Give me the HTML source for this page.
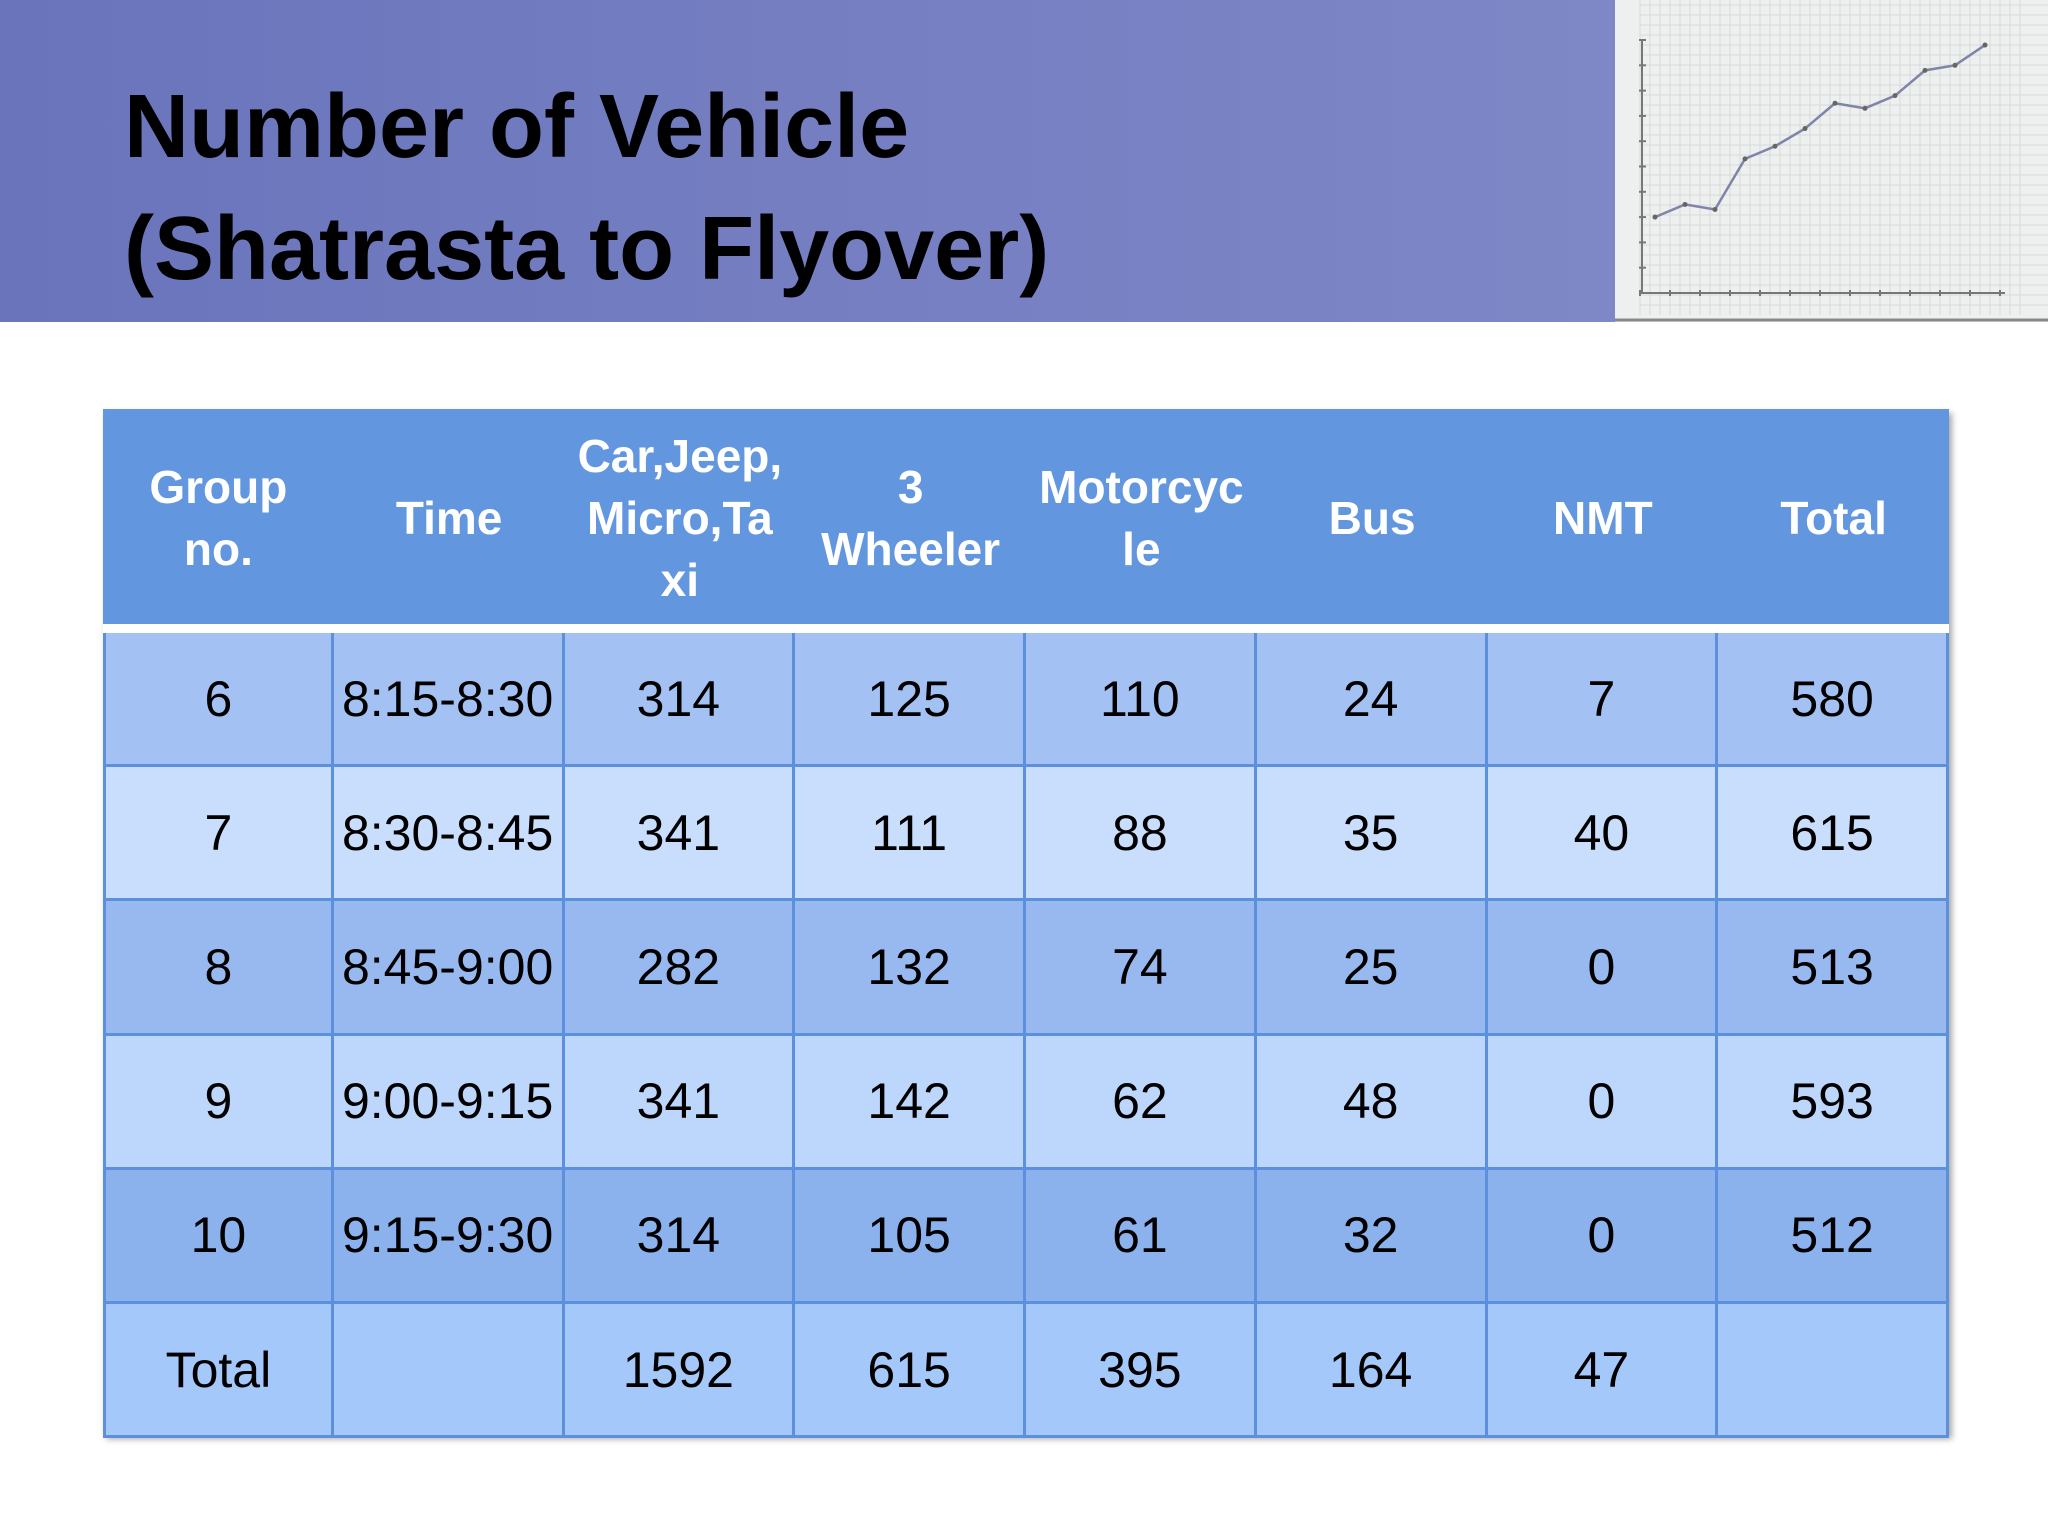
<!DOCTYPE html>
<html><head><meta charset="utf-8"><style>
body{margin:0;width:2048px;height:1536px;background:#fff;position:relative;overflow:hidden;font-family:"Liberation Sans",sans-serif}
#band{position:absolute;left:0;top:0;width:1615px;height:322px;background:linear-gradient(90deg,#6a74bb,#7e88c7)}
#title{position:absolute;left:124px;top:66px;font-weight:bold;font-size:90px;line-height:122px;color:#000}
#photo{position:absolute;left:1615px;top:0;width:433px;height:322px}
#tbl{position:absolute;left:103px;top:409px;width:1846px;height:1026px;box-shadow:3px 4px 6px rgba(0,0,0,.35)}
.c{position:absolute;display:flex;align-items:center;justify-content:center;text-align:center;box-sizing:border-box}
.h{color:#fff;font-weight:bold;font-size:46px;line-height:62px;white-space:nowrap}
.d{color:#000;font-size:50px;border-right:3px solid #5c90dc;border-bottom:3px solid #5c90dc}
</style></head><body>
<div id="band"></div>
<div id="title">Number of Vehicle<br>(Shatrasta to Flyover)</div>
<svg id="photo" width="433" height="322" viewBox="1615 0 433 322">
<rect x="1615" y="0" width="433" height="322" fill="#eef0ef"/>
<g id="grid" stroke="#d6dada" stroke-width="1"></g>
<g id="axes" stroke="#777" stroke-width="2" fill="none"></g>
<polyline id="line" fill="none" stroke="#7f84a8" stroke-width="2.5"/>
<g id="pts"></g>
<line x1="1615" y1="320" x2="2048" y2="320" stroke="#888" stroke-width="3"/>
</svg>
<div id="tbl"></div>
<script>
const months=["J","F","M","A","M","J","J","A","S","O","N","D"];
const values=[30,35,33,53,58,65,75,73,78,88,90,98];
const ns="http://www.w3.org/2000/svg";
const x0=1655,dx=30,y0=293,yTop=40;
const X=i=>x0+i*dx;
const Y=v=>y0-(v/100)*(y0-yTop);
const grid=document.getElementById('grid');
for(let gx=1640;gx<2030;gx+=10){const l=document.createElementNS(ns,'line');l.setAttribute('x1',gx);l.setAttribute('x2',gx);l.setAttribute('y1',0);l.setAttribute('y2',315);grid.appendChild(l);}
for(let gy=5;gy<315;gy+=10){const l=document.createElementNS(ns,'line');l.setAttribute('x1',1640);l.setAttribute('x2',2048);l.setAttribute('y1',gy);l.setAttribute('y2',gy);grid.appendChild(l);}
const axes=document.getElementById('axes');
let ax='<line x1="1642" y1="'+yTop+'" x2="1642" y2="'+y0+'"/><line x1="1642" y1="'+y0+'" x2="2005" y2="'+y0+'"/>';
for(let v=0;v<=100;v+=10){ax+='<line x1="1639" x2="1646" y1="'+Y(v)+'" y2="'+Y(v)+'"/>';}
for(let i=0;i<=12;i++){const tx=x0-15+i*dx;ax+='<line x1="'+tx+'" x2="'+tx+'" y1="'+(y0-3)+'" y2="'+(y0+3)+'"/>';}
axes.innerHTML=ax;
const pts=document.getElementById('pts');
document.getElementById('line').setAttribute('points',values.map((v,i)=>X(i)+','+Y(v)).join(' '));
values.forEach((v,i)=>{const c=document.createElementNS(ns,'circle');


c.setAttribute('cx',X(i));c.setAttribute('cy',Y(v));c.setAttribute('r',2.5);c.setAttribute('fill','#666');pts.appendChild(c);});

const headers=["Group<br>no.","Time","Car,Jeep,<br>Micro,Ta<br>xi","3<br>Wheeler","Motorcyc<br>le","Bus","NMT","Total"];
const rows=[["6","8:15-8:30","314","125","110","24","7","580"],["7","8:30-8:45","341","111","88","35","40","615"],["8","8:45-9:00","282","132","74","25","0","513"],["9","9:00-9:15","341","142","62","48","0","593"],["10","9:15-9:30","314","105","61","32","0","512"],["Total","","1592","615","395","164","47",""]];
const rowColors=["#a3c1f2","#c9ddfc","#97b9f0","#bdd6fc","#8cb2ee","#a5c8fb"];
const tbl=document.getElementById('tbl');
const cw=1846/8,hh=221,rh=134.2;
const hdr=document.createElement('div');


hdr.style.cssText='position:absolute;left:0;top:0;width:1846px;height:'+hh+'px;background:#6297e0;border-bottom:6px solid #fff;box-sizing:border-box';
tbl.appendChild(hdr);
headers.forEach((h,i)=>{const d=document.createElement('div');d.className='c h';


d.style.left=(i*cw)+'px';d.style.top='0px';d.style.width=cw+'px';d.style.height=(hh-4)+'px';d.innerHTML=h;tbl.appendChild(d);});
rows.forEach((r,ri)=>{r.forEach((t,ci)=>{const d=document.createElement('div');d.className='c d';


d.style.left=(ci*cw)+'px';d.style.top=(hh+3+ri*rh)+'px';d.style.width=cw+'px';d.style.height=rh+'px';
d.style.background=rowColors[ri];
if(ci==0)d.style.borderLeft='3px solid #5c90dc';
d.textContent=t;tbl.appendChild(d);});});
</script>
</body></html>
